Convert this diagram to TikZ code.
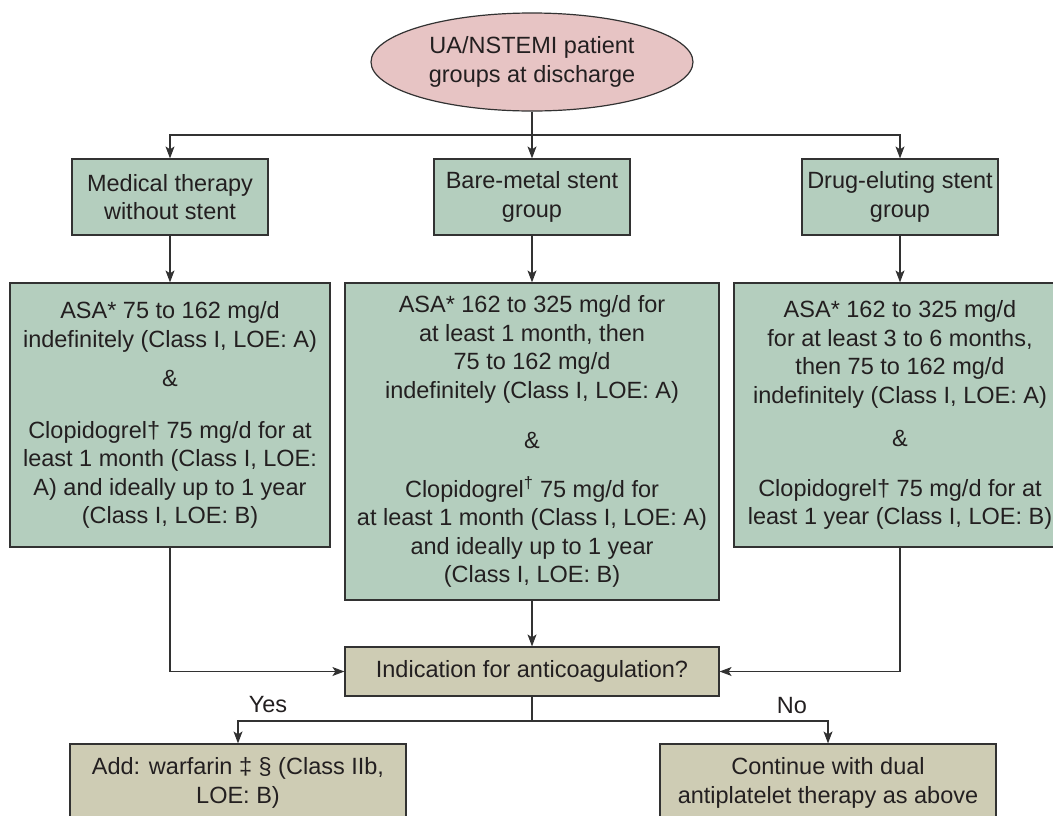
\documentclass[tikz,border=0pt]{standalone}
\usepackage{fontspec}
\setmainfont{Liberation Sans}
\usetikzlibrary{shapes.geometric,arrows.meta}
\definecolor{boxgreen}{RGB}{180,206,190}
\definecolor{boxtan}{RGB}{206,204,180}
\definecolor{ovalpink}{RGB}{231,196,196}
\definecolor{ink}{RGB}{35,31,32}
\definecolor{linec}{RGB}{50,50,50}

\begin{document}
\begin{tikzpicture}[x=1pt,y=-1pt,
  every node/.style={font=\fontsize{23.5}{28.5}\selectfont, text=ink},
  box/.style={draw=linec, line width=1.2pt, inner sep=0pt, align=center},
  greenbox/.style={box, fill=boxgreen},
  tanbox/.style={box, fill=boxtan},
  link/.style={draw=linec, line width=1.1pt},
  arr/.style={link, -{Stealth[length=12pt,width=9pt,inset=3pt]}}]
\useasboundingbox (0,0) rectangle (1053,815);
\clip (0,0) rectangle (1053,815);

% start oval
\node[ellipse, draw=linec, line width=1.2pt, fill=ovalpink, inner sep=0pt,
      minimum width=322pt, minimum height=98pt, align=center] (start) at (532,62)
  {UA/NSTEMI patient\\groups at discharge};

% patient groups
\node[greenbox, minimum width=196pt, minimum height=76pt] (med) at (170,197)
  {Medical therapy\\without stent};
\node[greenbox, minimum width=196pt, minimum height=76pt] (bms) at (532,197)
  {Bare-metal stent\\group};
\node[greenbox, minimum width=196pt, minimum height=76pt] (des) at (900,197)
  {Drug-eluting stent\\group};

% antiplatelet regimens
\node[greenbox, minimum width=320pt, minimum height=264pt] (lbig) at (170,415)
  {ASA* 75 to 162 mg/d\\indefinitely (Class I, LOE: A)\\[11pt]
   \&\\[23pt]
   Clopidogrel† 75 mg/d for at\\least 1 month (Class I, LOE:\\A) and ideally up to 1 year\\(Class I, LOE: B)};
\node[greenbox, minimum width=374pt, minimum height=317pt] (mbig) at (532,441.5)
  {ASA* 162 to 325 mg/d for\\at least 1 month, then\\75 to 162 mg/d\\indefinitely (Class I, LOE: A)\\[22pt]
   \&\\[20pt]
   Clopidogrel\textsuperscript{†} 75 mg/d for\\at least 1 month (Class I, LOE: A)\\and ideally up to 1 year\\(Class I, LOE: B)};
\node[greenbox, minimum width=332pt, minimum height=264pt] (rbig) at (900,415)
  {ASA* 162 to 325 mg/d\\for at least 3 to 6 months,\\then 75 to 162 mg/d\\indefinitely (Class I, LOE: A)\\[15pt]
   \&\\[21pt]
   Clopidogrel† 75 mg/d for at\\least 1 year (Class I, LOE: B)};

% decision
\node[tanbox, minimum width=374pt, minimum height=49pt] (ind) at (532,671.5)
  {Indication for anticoagulation?};

% outcomes
\node[tanbox, minimum width=336pt, minimum height=78pt] (yesbox) at (238,783)
  {Add: warfarin ‡ § (Class IIb,\\LOE: B)};
\node[tanbox, minimum width=336pt, minimum height=78pt] (nobox) at (828,783)
  {Continue with dual\\antiplatelet therapy as above};

% branch labels
\node[anchor=base] (yes) at (268,712) {Yes};
\node[anchor=base] (no) at (792,713) {No};

% connectors
\coordinate (split) at (532,135);
\coordinate (fork) at (532,721);
\draw[link] (start.south) -- (split);
\draw[arr] (split) -| (med.north);
\draw[arr] (split) -| (des.north);
\draw[arr] (split) -- (bms.north);
\draw[arr] (med.south) -- (lbig.north);
\draw[arr] (bms.south) -- (mbig.north);
\draw[arr] (des.south) -- (rbig.north);
\draw[arr] (lbig.south) |- (ind.west);
\draw[arr] (rbig.south) |- (ind.east);
\draw[arr] (mbig.south) -- (ind.north);
\draw[link] (ind.south) -- (fork);
\draw[arr] (fork) -| (yesbox.north);
\draw[arr] (fork) -| (nobox.north);
\end{tikzpicture}
\end{document}
